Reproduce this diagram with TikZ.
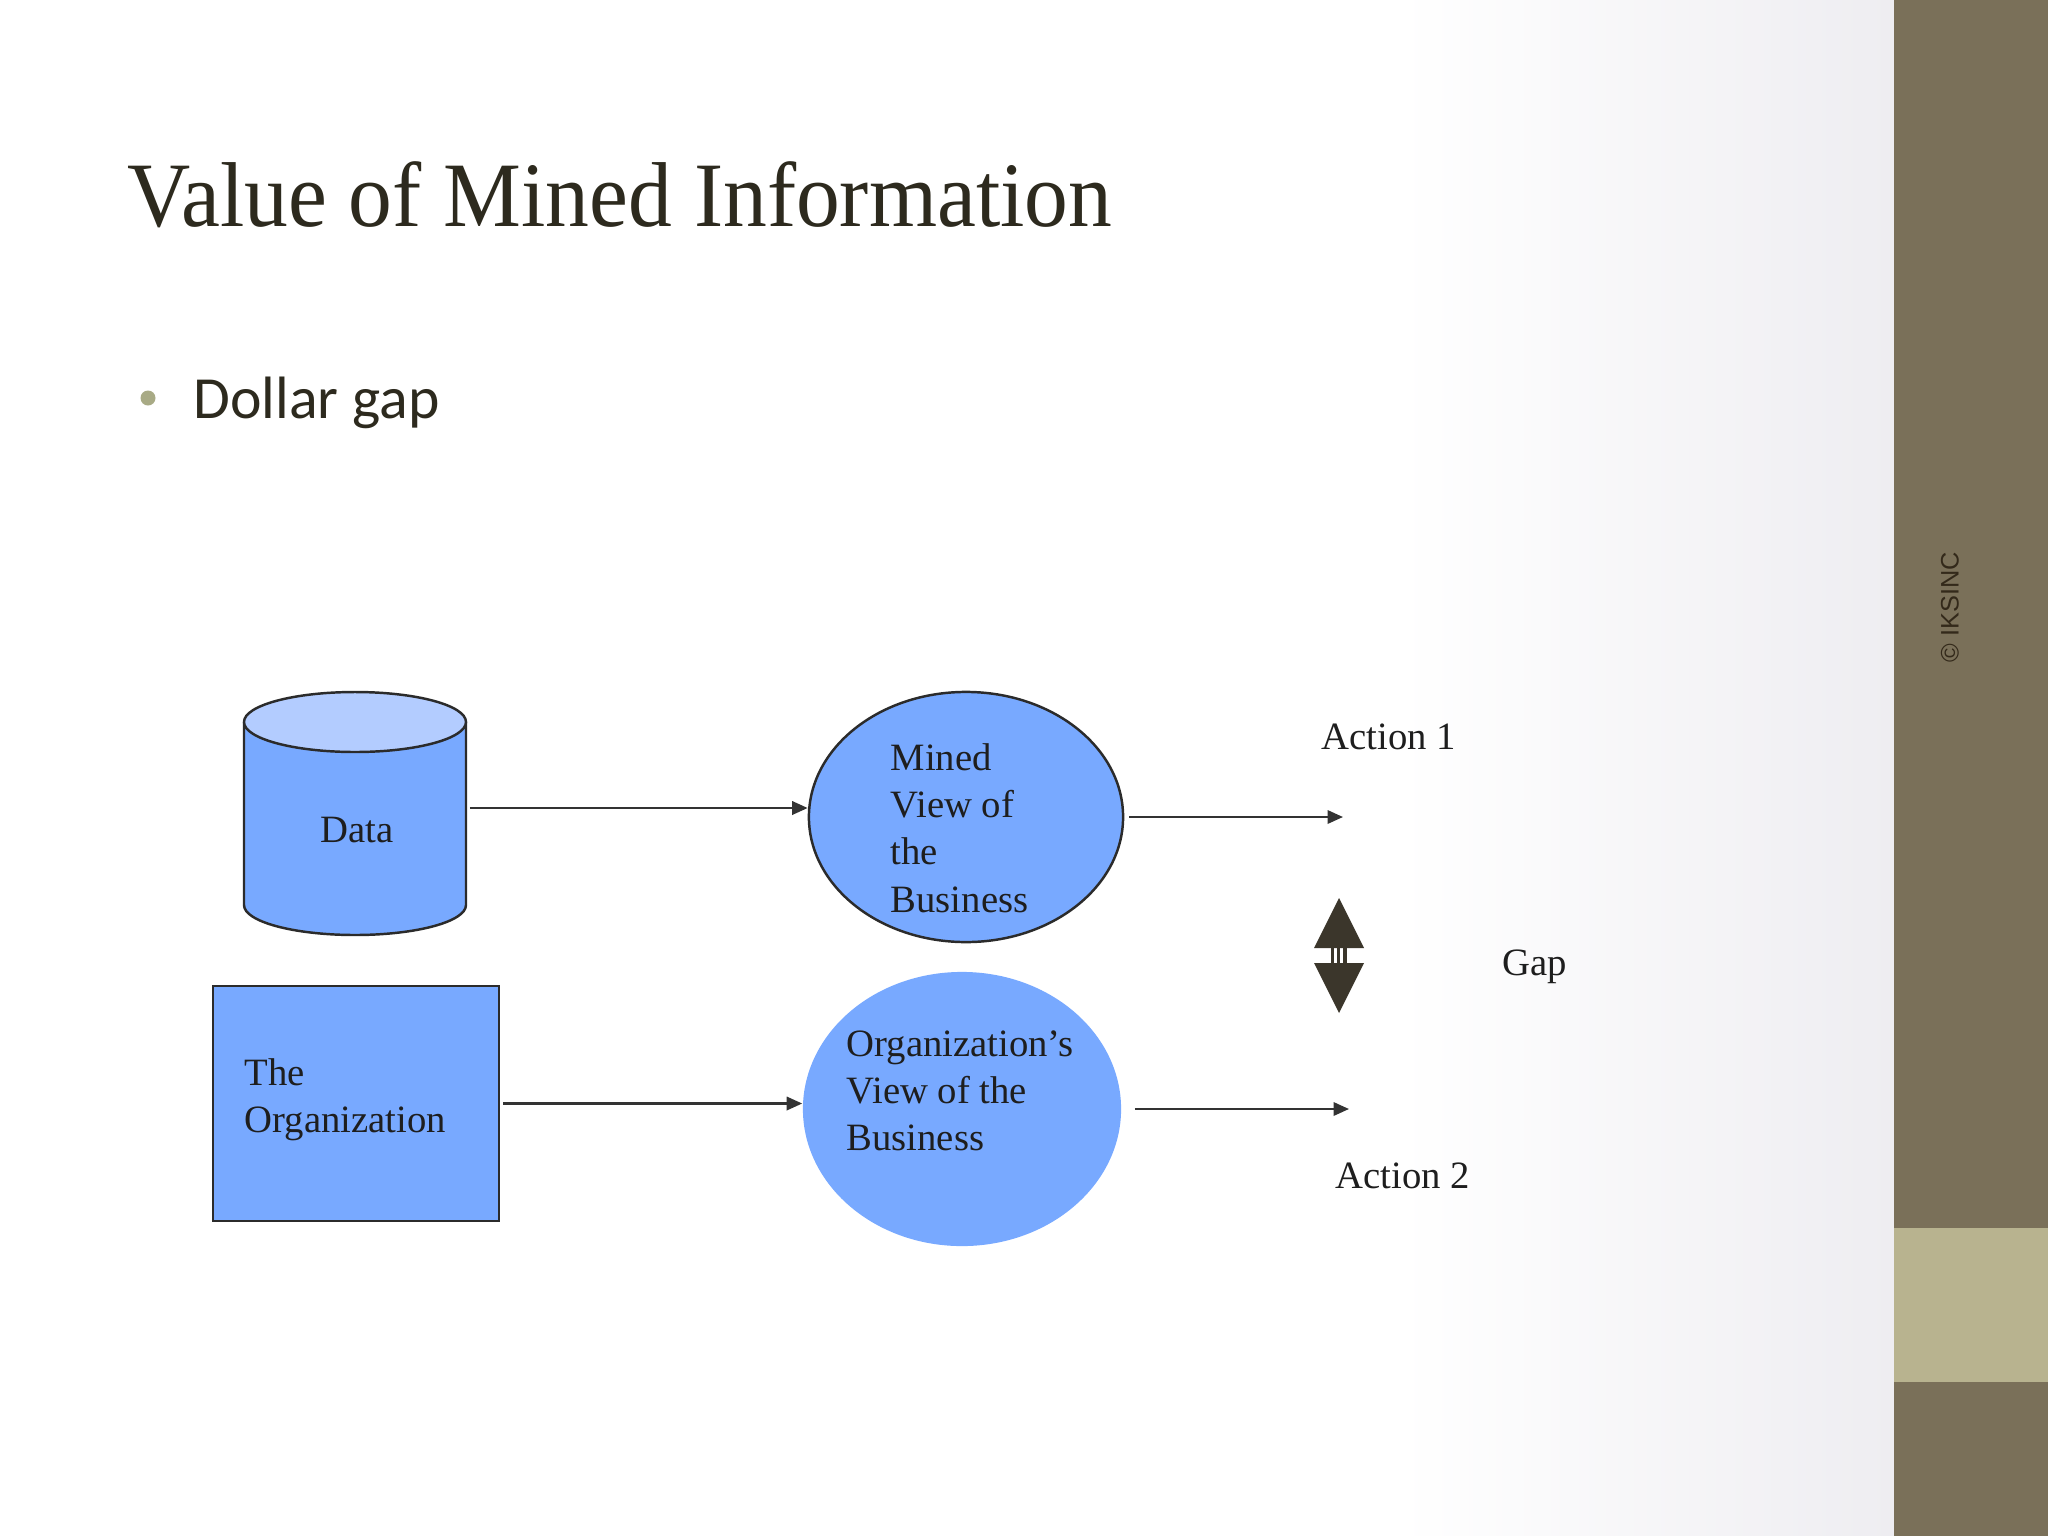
\documentclass[tikz,border=0pt]{standalone}
\usepackage{fontspec}
\setmainfont{Liberation Serif}
\newfontfamily\calibrif{Carlito}
\newfontfamily\arialf{Liberation Sans}
\usetikzlibrary{shapes.geometric,arrows.meta,calc}
\definecolor{sidec}{HTML}{7A7059}
\definecolor{bandc}{HTML}{B8B38F}
\definecolor{titlec}{HTML}{2D2A1E}
\definecolor{bulc}{HTML}{A8AA85}
\definecolor{bluef}{HTML}{78A9FF}
\definecolor{topf}{HTML}{B3CCFF}
\definecolor{edgec}{HTML}{2B2B2B}
\definecolor{linec}{HTML}{333333}
\definecolor{textc}{HTML}{1E1E1E}
\definecolor{gapc}{HTML}{3B362B}
\definecolor{bgr}{HTML}{EEEDF1}
\definecolor{copyc}{HTML}{33291A}
\begin{document}
\begin{tikzpicture}[x=0.01cm,y=-0.01cm,
  txt/.style={inner sep=0pt, anchor=base west, text=textc, font=\fontsize{11}{13.46}\selectfont},
  arr/.style={draw=linec, line width=0.65pt, -{Triangle[length=4.4pt,width=3.8pt]}},
  outl/.style={draw=edgec, line width=0.7pt}]
\useasboundingbox (0,0) rectangle (2048,1536);
% background
\fill[white] (0,0) rectangle (1894,1536);
\shade[left color=white, right color=bgr] (1400,0) rectangle (1894,1536);
% sidebar
\fill[sidec] (1894,0) rectangle (2048,1536);
\fill[bandc] (1894,1228) rectangle (2048,1382);
\node[rotate=90, inner sep=0pt, text=copyc, font=\arialf\fontsize{7.2}{8}\selectfont] (copy) at (1950,607) {© IKSINC};
% title
\node[anchor=base west, inner sep=0pt, text=titlec, font=\fontsize{26.2}{30}\selectfont] (title) at (127,226) {\scalebox{0.95}[1]{Value of Mined Information}};
\fill[bulc] (148,398) circle[radius=7.5];
\node[anchor=base west, inner sep=0pt, text=titlec, font=\calibrif\fontsize{17}{20}\selectfont] (bullet) at (193,418) {Dollar gap};
% cylinder Data
\fill[bluef] (244,722) -- (244,905) arc[start angle=180,end angle=0,x radius=111,y radius=30] -- (466,722) -- cycle;
\draw[outl] (244,722) -- (244,905) arc[start angle=180,end angle=0,x radius=111,y radius=30] -- (466,722);
\filldraw[outl, fill=topf] (355,722) ellipse [x radius=111, y radius=30];
\node[minimum width=2.22cm, minimum height=2.32cm, inner sep=0pt] (data) at (355,808) {};
\node[txt] (datalbl) at (320,842) {Data};
% organization box
\node[outl, fill=bluef, minimum width=2.86cm, minimum height=2.35cm, inner sep=0pt] (org) at (356,1103.5) {};
\node[txt] (orglbl) at (244,1085) {\begin{tabular}[t]{@{}l@{}}The\\Organization\end{tabular}};
% ellipses
\node[ellipse, outl, fill=bluef, minimum width=3.14cm, minimum height=2.5cm, inner sep=0pt] (mined) at (966,817) {};
\node[txt] (minedlbl) at (890,770) {\begin{tabular}[t]{@{}l@{}}Mined\\View of\\the\\Business\end{tabular}};
\node[ellipse, fill=bluef, minimum width=3.18cm, minimum height=2.74cm, inner sep=0pt] (orgview) at (962,1109) {};
\node[txt] (orgviewlbl) at (846,1056) {\begin{tabular}[t]{@{}l@{}}Organization’s\\View of the\\Business\end{tabular}};
% connectors
\draw[arr] ([xshift=0.03cm]data.east) -- (data.east -| mined.west);
\draw[arr] ([xshift=0.03cm]org.east) -- (org.east -| orgview.west);
\coordinate (a1) at (1343,817);
\coordinate (a2) at (1349,1109);
\draw[arr] ([xshift=0.05cm]mined.east) -- (a1);
\draw[arr] ([xshift=0.13cm]orgview.east) -- (a2);
% labels
\node[txt] (act1) at (1321,749) {Action 1};
\node[txt] (act2) at (1335,1188) {Action 2};
\node[txt] (gap) at (1502,975) {Gap};
% gap double arrow
\fill[gapc] (1339,898) -- (1364,948) -- (1314,948) -- cycle;
\fill[gapc] (1339,1013) -- (1364,963) -- (1314,963) -- cycle;
\fill[gapc] (1330.5,948) rectangle (1333.5,963);
\fill[gapc] (1336.5,948) rectangle (1339.5,963);
\fill[gapc] (1343,948) rectangle (1347,963);
\end{tikzpicture}
\end{document}
